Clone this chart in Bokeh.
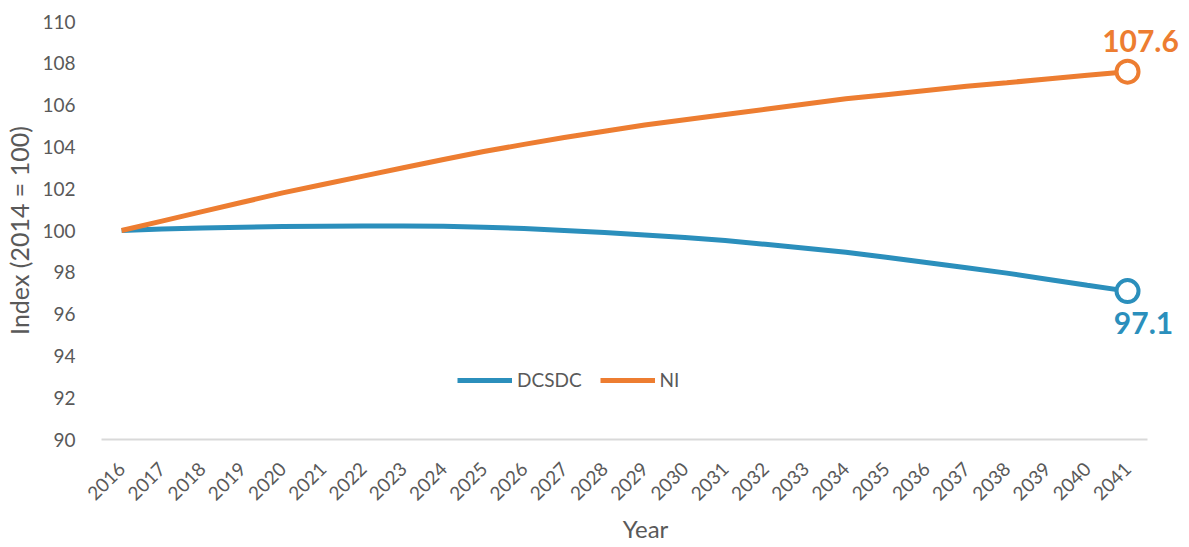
import math
from bokeh.plotting import figure
from bokeh.models import Legend, LegendItem, FixedTicker, Label, Range1d
from bokeh.embed import file_html
from bokeh.resources import INLINE

years = [str(y) for y in range(2016, 2042)]
dcsdc = [100.0, 100.07, 100.12, 100.16, 100.19, 100.2, 100.21, 100.21, 100.2, 100.16,
         100.1, 100.0, 99.9, 99.79, 99.66, 99.52, 99.34, 99.15, 98.96, 98.72,
         98.47, 98.22, 97.96, 97.67, 97.38, 97.1]
ni = [100.0, 100.45, 100.9, 101.35, 101.8, 102.2, 102.6, 103.0, 103.4, 103.78,
      104.12, 104.45, 104.75, 105.05, 105.3, 105.55, 105.8, 106.05, 106.3, 106.5,
      106.7, 106.9, 107.07, 107.25, 107.43, 107.6]
y_ticks = list(range(90, 111, 2))

BLUE = "#2B8FBC"
ORANGE = "#ED7D31"
GREY = "#595959"
FONT = "Lato"

xs = list(range(len(years)))  # category positions

p = figure(x_range=Range1d(-0.5, 26.54), y_range=(90, 110), width=1189, height=547,
           output_backend="svg", toolbar_location=None,
           min_border_left=101, min_border_right=0, min_border_top=21, min_border_bottom=108)
p.outline_line_color = None
p.xgrid.grid_line_color = None
p.ygrid.grid_line_color = None

r_b = p.line(xs, dcsdc, line_color=BLUE, line_width=5)
r_o = p.line(xs, ni, line_color=ORANGE, line_width=5)

p.scatter([xs[-1]], [dcsdc[-1]], size=22, fill_color="white", line_color=BLUE, line_width=4)
p.scatter([xs[-1]], [ni[-1]], size=22, fill_color="white", line_color=ORANGE, line_width=4)

p.add_layout(Label(x=xs[-1], y=ni[-1], text=f"{ni[-1]:.1f}", text_color=ORANGE,
                   text_font=FONT, text_font_style="bold", text_font_size="30px",
                   text_align="center", text_baseline="middle", x_offset=13, y_offset=31))
p.add_layout(Label(x=xs[-1], y=dcsdc[-1], text=f"{dcsdc[-1]:.1f}", text_color=BLUE,
                   text_font=FONT, text_font_style="bold", text_font_size="30px",
                   text_align="center", text_baseline="middle", x_offset=16, y_offset=-32))

# y axis
p.yaxis.ticker = FixedTicker(ticks=y_ticks)
p.yaxis.axis_line_color = None
p.yaxis.major_tick_line_color = None
p.yaxis.minor_tick_line_color = None
p.yaxis.major_label_text_font = FONT
p.yaxis.major_label_text_font_size = "19px"
p.yaxis.major_label_text_color = GREY
p.yaxis.major_label_standoff = 20
p.yaxis.axis_label = "Index (2014 = 100)"
p.yaxis.axis_label_text_font = FONT
p.yaxis.axis_label_text_font_size = "25px"
p.yaxis.axis_label_text_font_style = "normal"
p.yaxis.axis_label_text_color = GREY
p.yaxis.axis_label_standoff = 5

# x axis
p.xaxis.ticker = FixedTicker(ticks=xs)
p.xaxis.major_label_overrides = {i: y for i, y in zip(xs, years)}
p.xaxis.bounds = (xs[0] - 0.5, xs[-1] + 0.5)
p.xaxis.axis_line_color = "#D9D9D9"
p.xaxis.axis_line_width = 2
p.xaxis.major_tick_line_color = None
p.xaxis.minor_tick_line_color = None
p.xaxis.major_label_orientation = math.pi / 4
p.xaxis.major_label_text_font = FONT
p.xaxis.major_label_text_font_size = "19px"
p.xaxis.major_label_text_color = GREY
p.xaxis.major_label_standoff = 20
p.xaxis.axis_label = "Year"
p.xaxis.axis_label_text_font = FONT
p.xaxis.axis_label_text_font_size = "24px"
p.xaxis.axis_label_text_font_style = "normal"
p.xaxis.axis_label_text_color = GREY
p.xaxis.axis_label_standoff = 4

legend = Legend(items=[LegendItem(label="DCSDC", renderers=[r_b]),
                       LegendItem(label="NI", renderers=[r_o])],
                orientation="horizontal", location=(356, 48),
                label_text_font=FONT, label_text_font_size="19px", label_text_color=GREY,
                glyph_width=55, glyph_height=20, label_standoff=5, spacing=18,
                padding=0, margin=0, border_line_color=None, background_fill_alpha=0)
p.add_layout(legend)

open("out.html", "w").write(file_html(p, INLINE))
